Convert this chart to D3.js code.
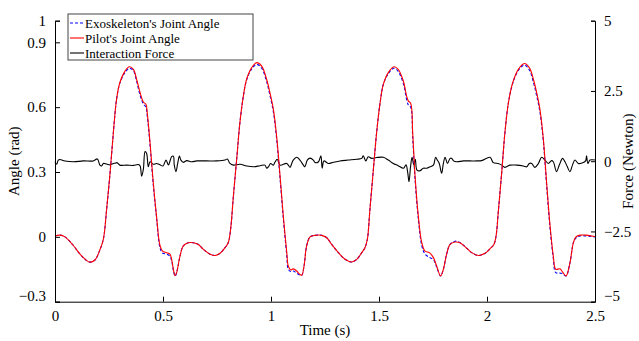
<!DOCTYPE html>
<html>
<head>
<meta charset="utf-8">
<script src="https://cdn.jsdelivr.net/npm/d3@7"></script>
<style>
  body { margin: 0; background: #fff; }
  text { font-family: "Liberation Serif", "Times New Roman", serif; fill: #000; }
</style>
</head>
<body>
<svg id="chart" width="639" height="341"></svg>
<script>
// pilot's joint angle (rad) vs time (s)
var pilotT = [0,0.023,0.046,0.085,0.116,0.147,0.162,0.185,0.208,0.224,0.239,0.255,0.27,0.285,0.3,0.324,0.344,0.363,0.378,0.394,0.409,0.421,0.427,0.44,0.455,0.47,0.486,0.498,0.517,0.532,0.54,0.548,0.556,0.563,0.579,0.594,0.617,0.64,0.664,0.687,0.718,0.741,0.764,0.787,0.802,0.813,0.826,0.841,0.856,0.872,0.887,0.91,0.934,0.957,0.98,0.995,1.011,1.026,1.042,1.057,1.073,1.08,1.091,1.103,1.119,1.13,1.142,1.153,1.165,1.181,1.204,1.235,1.258,1.281,1.312,1.343,1.373,1.397,1.42,1.435,1.446,1.458,1.474,1.489,1.505,1.52,1.543,1.569,1.589,1.613,1.628,1.636,1.647,1.656,1.667,1.682,1.698,1.713,1.733,1.752,1.767,1.785,1.798,1.813,1.829,1.852,1.875,1.898,1.929,1.96,1.991,2.014,2.032,2.042,2.052,2.068,2.083,2.099,2.119,2.145,2.173,2.196,2.215,2.23,2.245,2.261,2.276,2.292,2.307,2.318,2.338,2.35,2.366,2.384,2.4,2.412,2.431,2.46,2.484,2.5];
var pilotA = [0.004,0.008,0.0,-0.04,-0.08,-0.11,-0.117,-0.107,-0.06,-0.01,0.127,0.297,0.48,0.636,0.713,0.767,0.787,0.775,0.728,0.667,0.624,0.613,0.574,0.435,0.25,0.096,-0.04,-0.066,-0.073,-0.08,-0.104,-0.15,-0.18,-0.166,-0.088,-0.042,-0.027,-0.027,-0.035,-0.058,-0.08,-0.086,-0.076,-0.05,-0.027,0.035,0.19,0.358,0.528,0.651,0.729,0.782,0.806,0.79,0.728,0.667,0.59,0.466,0.281,0.096,-0.073,-0.135,-0.153,-0.148,-0.158,-0.17,-0.178,-0.135,-0.042,0.0,0.007,0.007,-0.004,-0.035,-0.073,-0.104,-0.116,-0.104,-0.073,-0.05,-0.012,0.127,0.312,0.482,0.62,0.705,0.76,0.787,0.775,0.72,0.651,0.628,0.617,0.482,0.281,0.096,-0.027,-0.066,-0.073,-0.096,-0.135,-0.181,-0.15,-0.08,-0.035,-0.024,-0.027,-0.045,-0.073,-0.086,-0.076,-0.055,-0.035,0.004,0.112,0.297,0.482,0.62,0.713,0.775,0.802,0.783,0.728,0.667,0.59,0.451,0.25,0.05,-0.089,-0.15,-0.148,-0.163,-0.181,-0.12,-0.027,0.0,0.008,0.008,0.004,0.002];
// exoskeleton's joint angle (rad), same time samples
var exoA = [0.004,0.008,0.0,-0.04,-0.08,-0.11,-0.117,-0.107,-0.06,-0.01,0.127,0.297,0.48,0.636,0.71,0.76,0.78,0.768,0.72,0.655,0.615,0.6,0.56,0.425,0.24,0.09,-0.05,-0.075,-0.08,-0.09,-0.11,-0.155,-0.182,-0.166,-0.088,-0.042,-0.027,-0.027,-0.035,-0.058,-0.08,-0.086,-0.076,-0.05,-0.027,0.035,0.19,0.358,0.528,0.651,0.725,0.776,0.798,0.78,0.718,0.655,0.578,0.455,0.27,0.085,-0.085,-0.15,-0.16,-0.158,-0.168,-0.175,-0.178,-0.135,-0.042,0.0,0.007,0.007,-0.004,-0.035,-0.073,-0.104,-0.116,-0.104,-0.073,-0.05,-0.012,0.127,0.312,0.482,0.62,0.705,0.755,0.78,0.765,0.708,0.635,0.61,0.6,0.46,0.265,0.085,-0.04,-0.08,-0.095,-0.105,-0.14,-0.181,-0.15,-0.08,-0.035,-0.02,-0.027,-0.045,-0.073,-0.086,-0.076,-0.055,-0.035,0.004,0.112,0.297,0.482,0.62,0.71,0.77,0.795,0.772,0.715,0.652,0.578,0.44,0.24,0.04,-0.1,-0.165,-0.168,-0.17,-0.181,-0.12,-0.027,-0.005,0.004,0.004,0.002,0.0];
// interaction force (N)
var forceT = [0,0.008,0.015,0.023,0.046,0.085,0.131,0.177,0.196,0.208,0.216,0.224,0.239,0.255,0.27,0.278,0.287,0.3,0.332,0.363,0.386,0.394,0.401,0.409,0.417,0.424,0.432,0.44,0.455,0.47,0.486,0.5,0.514,0.525,0.54,0.548,0.552,0.56,0.568,0.576,0.583,0.594,0.61,0.633,0.656,0.702,0.748,0.787,0.798,0.81,0.826,0.857,0.887,0.918,0.95,0.972,0.98,0.989,0.998,1.011,1.018,1.029,1.042,1.073,1.088,1.096,1.103,1.119,1.134,1.15,1.157,1.168,1.181,1.196,1.204,1.22,1.231,1.237,1.245,1.265,1.288,1.319,1.358,1.397,1.42,1.427,1.439,1.45,1.466,1.489,1.52,1.543,1.566,1.589,1.613,1.625,1.633,1.639,1.646,1.653,1.661,1.668,1.676,1.69,1.705,1.721,1.736,1.752,1.762,1.77,1.779,1.79,1.798,1.806,1.817,1.829,1.837,1.845,1.86,1.891,1.921,1.952,1.975,2.014,2.029,2.052,2.068,2.083,2.106,2.137,2.168,2.184,2.196,2.207,2.222,2.238,2.253,2.268,2.284,2.299,2.307,2.322,2.335,2.35,2.361,2.372,2.384,2.396,2.407,2.423,2.446,2.457,2.461,2.467,2.477,2.5];
var forceF = [-0.02,-0.11,0.04,0.06,0.01,-0.02,0.01,0.01,0.08,-0.14,-0.17,-0.08,-0.1,-0.13,-0.08,-0.07,-0.05,-0.14,-0.14,-0.15,-0.12,-0.17,-0.53,-0.29,0.34,0.28,-0.2,-0.02,-0.11,-0.08,-0.13,-0.17,0.04,-0.13,0.16,0.18,-0.13,-0.37,-0.08,0.18,0.04,-0.04,0.02,-0.02,0.01,0.01,0.01,0.04,0.08,-0.08,-0.14,-0.11,-0.17,-0.2,-0.16,-0.14,-0.25,-0.19,-0.08,-0.14,-0.04,0.07,-0.14,-0.08,-0.22,-0.08,0.04,0.14,0.04,-0.14,-0.2,0.04,0.11,0.04,-0.05,-0.02,0.19,-0.25,0.01,-0.08,-0.04,0.01,0.04,0.07,0.1,0.19,0.01,0.16,0.1,0.13,0.14,0.04,-0.08,-0.16,-0.25,-0.13,-0.41,-0.73,-0.2,0.14,-0.13,0.07,-0.32,-0.34,-0.25,-0.25,-0.2,-0.14,0.14,0.04,-0.08,-0.43,-0.08,0.14,-0.08,0.1,0.1,0.01,-0.02,0.01,0.01,0.01,0.02,0.14,-0.05,-0.08,-0.14,-0.22,-0.14,-0.14,-0.17,-0.2,-0.08,-0.08,-0.22,-0.08,0.14,0.04,-0.08,0.02,-0.02,-0.37,-0.13,0.1,-0.02,-0.2,-0.37,-0.13,0.04,-0.08,-0.05,0.02,0.19,-0.08,0.04,0.04];

var timeTicks = [0, 0.5, 1, 1.5, 2, 2.5];
var angleTicks = [-0.3, 0, 0.3, 0.6, 0.9, 1];
var forceTicks = [-5, -2.5, 0, 2.5, 5];
var legendLabels = ["Exoskeleton's Joint Angle", "Pilot's Joint Angle", "Interaction Force"];

var svg = d3.select("#chart");
var plotL = 55, plotR = 595, plotT = 20.7, plotB = 301.7;

var x = d3.scaleLinear().domain([0, 2.5]).range([plotL, plotR]);
var yA = d3.scaleLinear().domain([-0.3, 1]).range([plotB, plotT]);
var yF = d3.scaleLinear().domain([-5, 5]).range([plotB, plotT]);

var pilot = pilotT.map(function(t, i) { return [t, pilotA[i]]; });
var exo = pilotT.map(function(t, i) { return [t, exoA[i]]; });
var force = forceT.map(function(t, i) { return [t, forceF[i]]; });

var lineA = d3.line().x(function(d) { return x(d[0]); }).y(function(d) { return yA(d[1]); })
    .curve(d3.curveCatmullRom.alpha(0.5));
var lineF = d3.line().x(function(d) { return x(d[0]); }).y(function(d) { return yF(d[1]); })
    .curve(d3.curveCatmullRom.alpha(0.5));

svg.append("path").datum(force).attr("d", lineF)
    .attr("fill", "none").attr("stroke", "#000").attr("stroke-width", 1.1);
svg.append("path").datum(exo).attr("d", lineA)
    .attr("fill", "none").attr("stroke", "#0000ff").attr("stroke-width", 1.1)
    .attr("stroke-dasharray", "3,2");
svg.append("path").datum(pilot).attr("d", lineA)
    .attr("fill", "none").attr("stroke", "#ff0000").attr("stroke-width", 1.1);

// axes (MATLAB style inward ticks)
var xAxis = d3.axisBottom(x).tickValues(timeTicks).tickSize(-5).tickPadding(9)
    .tickFormat(d3.format("~g"));
var gx = svg.append("g").attr("transform", "translate(0," + plotB + ")").call(xAxis);

var yAxisL = d3.axisLeft(yA).tickValues(angleTicks).tickSize(-5).tickPadding(9)
    .tickFormat(d3.format("~g"));
var gl = svg.append("g").attr("transform", "translate(" + plotL + ",0)").call(yAxisL);

var yAxisR = d3.axisRight(yF).tickValues(forceTicks).tickSize(-4).tickPadding(9)
    .tickFormat(d3.format("~g"));
var gr = svg.append("g").attr("transform", "translate(" + plotR + ",0)").call(yAxisR);

[gx, gl, gr].forEach(function(g) {
  g.select(".domain").attr("stroke", "#000").attr("stroke-width", 1);
  g.selectAll(".tick line").attr("stroke", "#000");
  g.selectAll(".tick text").style("font-family", "Liberation Serif").style("font-size", "15px").attr("fill", "#000");
});
gl.selectAll(".tick text").filter(function(d) { return d === -0.3; }).attr("dy", "-0.05em");
gr.selectAll(".tick text").filter(function(d) { return d === -5; }).attr("dy", "-0.1em");

svg.append("text").attr("x", (plotL + plotR) / 2).attr("y", 335)
    .attr("text-anchor", "middle").style("font-size", "15px").text("Time (s)");
svg.append("text").attr("transform", "translate(19," + ((plotT + plotB) / 2) + ") rotate(-90)")
    .attr("text-anchor", "middle").style("font-size", "15px").text("Angle (rad)");
svg.append("text").attr("transform", "translate(633," + ((plotT + plotB) / 2) + ") rotate(-90)")
    .attr("text-anchor", "middle").style("font-size", "15px").text("Force (Newton)");

// legend
var leg = svg.append("g").attr("transform", "translate(68,14)");
leg.append("rect").attr("width", 185).attr("height", 46)
    .attr("fill", "#fff").attr("stroke", "#444").attr("stroke-width", 1);
var legStyles = [
  { color: "#0000ff", dash: "3,2" },
  { color: "#ff0000", dash: null },
  { color: "#000", dash: null }
];
legendLabels.forEach(function(lbl, i) {
  var yy = 9 + i * 15;
  leg.append("line").attr("x1", 2).attr("x2", 16).attr("y1", yy).attr("y2", yy)
      .attr("stroke", legStyles[i].color).attr("stroke-width", 1.1)
      .attr("stroke-dasharray", legStyles[i].dash);
  leg.append("text").attr("x", 17).attr("y", yy).attr("dy", "0.35em")
      .style("font-size", "13px").text(lbl);
});
</script>
</body>
</html>
